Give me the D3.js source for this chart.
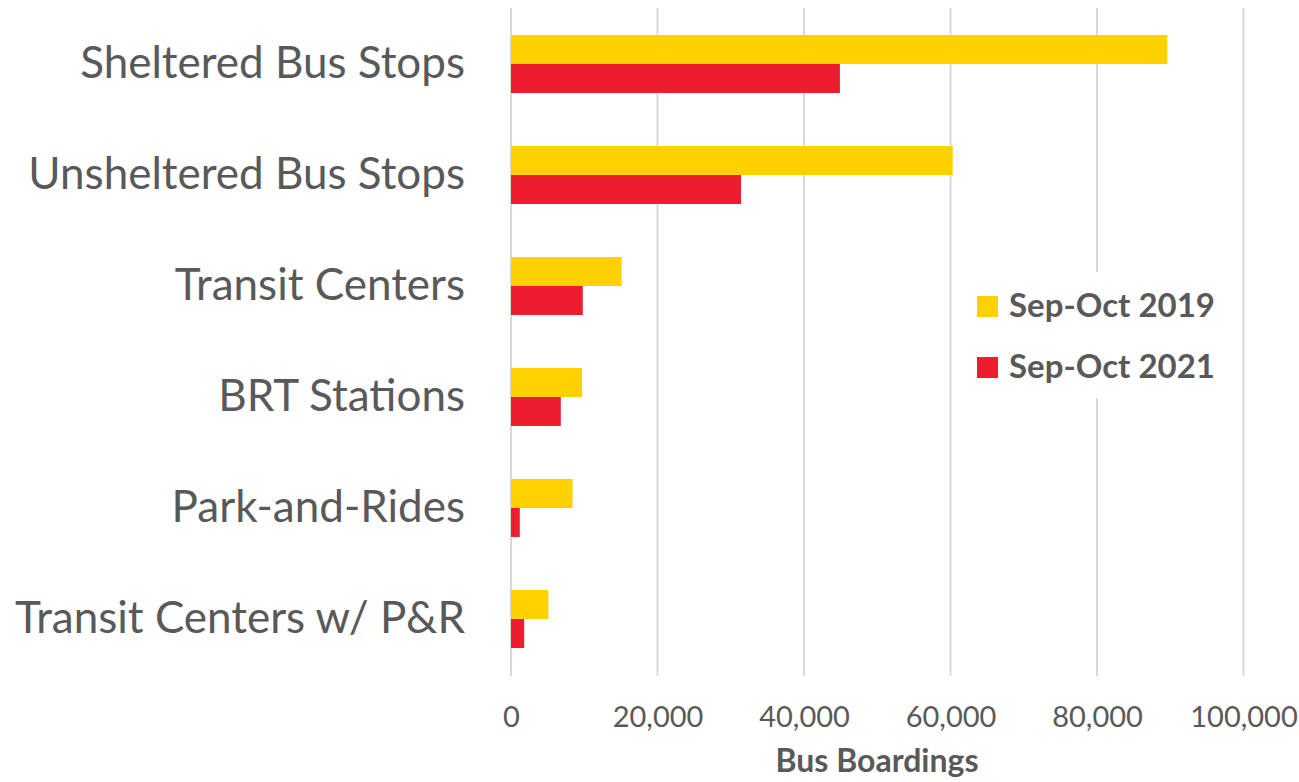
<!DOCTYPE html>
<html><head><meta charset="utf-8">
<script src="https://cdn.jsdelivr.net/npm/d3@7"></script>
<style>body{margin:0;background:#fff}svg{display:block}</style>
</head><body>
<svg id="chart" width="1299" height="782"></svg>
<script>
const categories = ["Sheltered Bus Stops","Unsheltered Bus Stops","Transit Centers","BRT Stations","Park-and-Rides","Transit Centers w/ P&R"];
const seriesNames = ["Sep-Oct 2019","Sep-Oct 2021"];
const values2019 = [89600, 60300, 15100, 9700, 8400, 5100];
const values2021 = [44900, 31400, 9800, 6800, 1200, 1800];
const xTicks = [0,20000,40000,60000,80000,100000];
const colors = ["#FFD100","#ED1C2E"];

const svg = d3.select("#chart");
const textColor = "#595959";
const x = d3.scaleLinear().domain([0,100000]).range([511,1243.5]);
const y = d3.scaleBand().domain(categories).range([8.5,674.5]).paddingInner(0.478).paddingOuter(0.239);
const ySub = d3.scaleBand().domain(seriesNames).range([0,y.bandwidth()]);

// gridlines
svg.append("g").selectAll("line").data(xTicks).join("line")
  .attr("x1",d=>x(d)).attr("x2",d=>x(d)).attr("y1",8).attr("y2",676)
  .attr("stroke","#D9D9D9").attr("stroke-width",2);

// bars
const series = [values2019, values2021];
const g = svg.append("g");
series.forEach((vals,si)=>{
  g.selectAll(null).data(categories).join("rect")
    .attr("x",x(0)).attr("y",(c)=>y(c)+ySub(seriesNames[si]))
    .attr("width",(c,i)=>x(vals[i])-x(0)).attr("height",ySub.bandwidth())
    .attr("fill",colors[si]);
});

// category labels
svg.append("g").selectAll("text").data(categories).join("text")
  .attr("x",465).attr("y",c=>y(c)+y.bandwidth()/2+14)
  .attr("text-anchor","end")
  .attr("font-family","Lato, sans-serif").attr("font-size",44).attr("fill",textColor)
  .text(c=>c);

// x axis tick labels
const xAxis = d3.axisBottom(x).tickValues(xTicks).tickSize(0).tickPadding(0).tickFormat(d3.format(","));
const ax = svg.append("g").attr("transform","translate(0,727)").call(xAxis);
ax.select(".domain").remove();
ax.selectAll("text").attr("font-family","Lato, sans-serif").attr("font-size",29).attr("fill",textColor).attr("dy",0).attr("y",0);

// axis title
svg.append("text").attr("x",877).attr("y",772).attr("text-anchor","middle")
  .attr("font-family","Lato, sans-serif").attr("font-weight","bold").attr("font-size",32).attr("fill",textColor)
  .text("Bus Boardings");

// legend
const lg = svg.append("g");
lg.append("rect").attr("x",962).attr("y",272).attr("width",268).attr("height",126).attr("fill","#fff");
const items = lg.selectAll("g").data(seriesNames).join("g")
  .attr("transform",(d,i)=>`translate(977,${296+i*61})`);
items.append("rect").attr("width",21).attr("height",21).attr("fill",(d,i)=>colors[i]);
items.append("text").attr("x",32).attr("y",21)
  .attr("font-family","Lato, sans-serif").attr("font-weight","bold").attr("font-size",33).attr("fill",textColor)
  .text(d=>d);
</script>
</body></html>
